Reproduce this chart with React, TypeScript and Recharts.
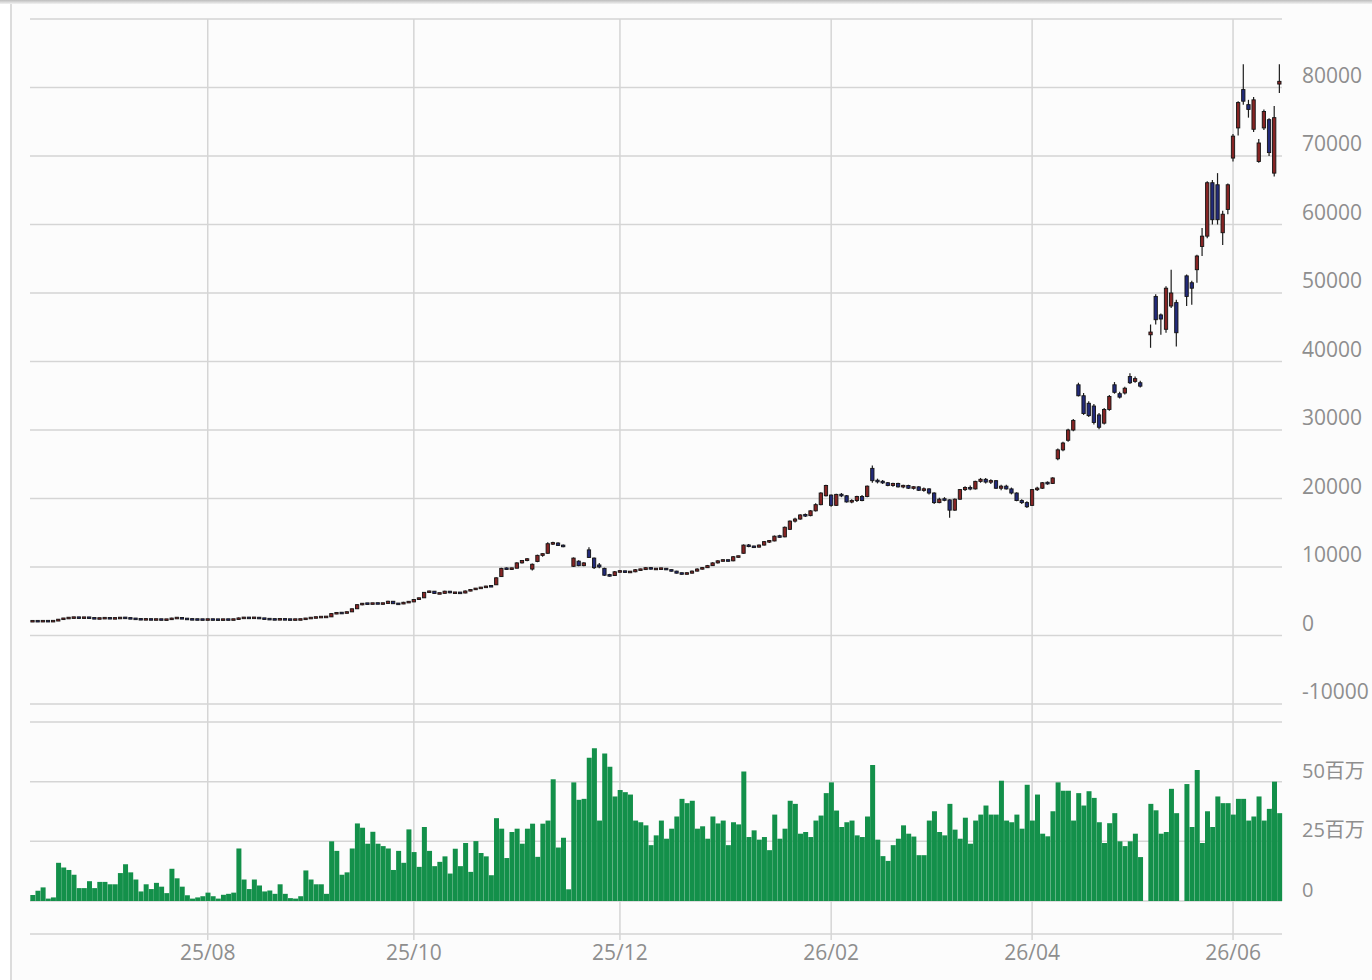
import { ComposedChart, Bar, XAxis, YAxis, CartesianGrid } from "recharts";

// daily candles [open, high, low, close]; null = no trade that day
const candles: (number[] | null)[] = [
  // 0-9
  [2080, 2110, 2060, 2090], [2090, 2110, 2070, 2085], [2085, 2105, 2065, 2095], [2095, 2110, 2075, 2090], [2090, 2120, 2070, 2100],
  [2110, 2420, 2100, 2380], [2380, 2560, 2300, 2500], [2500, 2640, 2480, 2600], [2600, 2660, 2560, 2620], [2620, 2650, 2570, 2590],
  // 10-19
  [2590, 2640, 2560, 2610], [2610, 2650, 2560, 2580], [2560, 2580, 2420, 2450], [2450, 2560, 2430, 2520], [2520, 2580, 2480, 2540],
  [2540, 2570, 2470, 2490], [2490, 2540, 2460, 2510], [2510, 2660, 2500, 2600], [2600, 2680, 2500, 2540], [2540, 2570, 2430, 2460],
  // 20-29
  [2460, 2490, 2380, 2400], [2400, 2420, 2320, 2340], [2340, 2400, 2310, 2370], [2370, 2390, 2300, 2320], [2320, 2380, 2300, 2350],
  [2350, 2370, 2290, 2310], [2310, 2340, 2290, 2320], [2320, 2580, 2310, 2540], [2540, 2620, 2500, 2560], [2560, 2580, 2440, 2460],
  // 30-39
  [2460, 2470, 2350, 2370], [2370, 2380, 2320, 2340], [2340, 2360, 2310, 2330], [2330, 2350, 2300, 2320], [2320, 2350, 2300, 2340],
  [2340, 2360, 2310, 2320], [2320, 2340, 2300, 2310], [2310, 2340, 2290, 2330], [2330, 2350, 2300, 2320], [2320, 2360, 2300, 2340],
  // 40-49
  [2340, 2620, 2330, 2560], [2560, 2620, 2520, 2580], [2580, 2610, 2540, 2560], [2560, 2640, 2530, 2600], [2600, 2620, 2480, 2500],
  [2500, 2520, 2400, 2420], [2420, 2440, 2340, 2360], [2360, 2380, 2320, 2340], [2340, 2420, 2330, 2380], [2380, 2400, 2320, 2330],
  // 50-59
  [2330, 2350, 2310, 2320], [2320, 2340, 2300, 2330], [2330, 2360, 2310, 2350], [2350, 2560, 2340, 2520], [2520, 2620, 2500, 2580],
  [2580, 2700, 2560, 2680], [2680, 2740, 2640, 2700], [2700, 2760, 2660, 2720], [2720, 3250, 2710, 3200], [3200, 3380, 3120, 3300],
  // 60-69
  [3300, 3360, 3200, 3260], [3260, 3520, 3240, 3450], [3450, 3950, 3420, 3900], [3900, 4560, 3880, 4500], [4500, 4760, 4420, 4680],
  [4680, 4720, 4560, 4620], [4620, 4750, 4580, 4700], [4700, 4760, 4600, 4650], [4650, 4720, 4580, 4680], [4680, 5060, 4660, 5000],
  // 70-79
  [5000, 5020, 4600, 4640], [4640, 4700, 4560, 4600], [4600, 4920, 4580, 4850], [4850, 5000, 4800, 4900], [4900, 5300, 4880, 5250],
  [5250, 5560, 5200, 5500], [5500, 6350, 5480, 6300], [6300, 6550, 6200, 6470], [6470, 6500, 6080, 6130], [6130, 6200, 6050, 6150],
  // 80-89
  [6150, 6520, 6120, 6470], [6470, 6500, 6180, 6230], [6230, 6300, 6150, 6250], [6250, 6280, 6160, 6200], [6200, 6560, 6180, 6500],
  [6500, 6760, 6460, 6700], [6700, 6950, 6650, 6900], [6900, 7050, 6850, 7000], [7000, 7260, 6960, 7200], [7200, 7300, 7100, 7180],
  // 90-99
  [7400, 8500, 7380, 8420], [8600, 9900, 8580, 9800], [9800, 9950, 9600, 9700], [9700, 9900, 9620, 9820], [9820, 10700, 9800, 10600],
  [10600, 11000, 10500, 10950], [10950, 11300, 10850, 11200], [9700, 10500, 9500, 10400], [10800, 11800, 10700, 11700], [11700, 12000, 11500, 11950],
  // 100-109
  [12000, 13600, 11950, 13400], [13400, 13700, 13200, 13500], [13500, 13600, 13050, 13150], [13150, 13300, 12900, 13000], null,
  [10100, 11400, 10000, 11300], [10850, 11000, 10100, 10200], [10200, 10700, 10100, 10600], [12500, 12900, 11300, 11400], [11300, 11400, 9700, 9900],
  // 110-119
  [10300, 10600, 9800, 10000], [9800, 9900, 8700, 8800], [8800, 9000, 8600, 8750], [8750, 9400, 8700, 9300], [9300, 9500, 9200, 9400],
  [9400, 9450, 9150, 9250], [9250, 9400, 9150, 9300], [9300, 9700, 9250, 9600], [9600, 9750, 9500, 9620], [9620, 9980, 9580, 9900],
  // 120-129
  [9900, 9950, 9650, 9700], [9700, 9800, 9600, 9720], [9720, 9900, 9650, 9800], [9800, 9850, 9550, 9600], [9600, 9650, 9350, 9400],
  [9400, 9450, 9050, 9100], [9100, 9150, 8900, 9000], [9000, 9200, 8950, 9100], [9100, 9500, 9050, 9400], [9400, 9800, 9350, 9700],
  // 130-139
  [9700, 10000, 9650, 9900], [9900, 10300, 9850, 10200], [10200, 10700, 10150, 10600], [10600, 11000, 10500, 10900], [10900, 11100, 10800, 11000],
  [11000, 11050, 10800, 10900], [10900, 11600, 10850, 11500], [11500, 11650, 11400, 11550], [12000, 13300, 11950, 13200], [13200, 13350, 12900, 13000],
  // 140-149
  [13000, 13100, 12800, 12900], [12900, 13300, 12850, 13200], [13200, 13800, 13150, 13700], [13700, 13900, 13500, 13800], [13800, 14600, 13750, 14500],
  [14500, 14700, 14300, 14400], [14400, 15900, 14350, 15800], [15500, 16800, 15400, 16700], [16700, 17200, 16500, 17000], [17000, 17700, 16900, 17600],
  // 150-159
  [17600, 17800, 17300, 17500], [17500, 18300, 17400, 18200], [18200, 19300, 18100, 19100], [19100, 20900, 19000, 20800], [20400, 22000, 20300, 21900],
  [20500, 20600, 18800, 19000], [19000, 20700, 18900, 20600], [20600, 20800, 20200, 20400], [20400, 20500, 19400, 19500], [19500, 19900, 19300, 19700],
  // 160-169
  [19700, 20400, 19500, 20300], [20300, 20500, 19600, 19700], [20300, 21900, 20200, 21800], [24400, 24800, 22300, 22600], [22600, 22900, 22200, 22500],
  [22500, 22700, 22100, 22300], [22300, 22400, 21800, 21900], [21900, 22300, 21700, 22200], [22200, 22300, 21600, 21700], [21700, 22000, 21500, 21900],
  // 170-179
  [21900, 22000, 21400, 21500], [21500, 21800, 21300, 21700], [21700, 21800, 21100, 21200], [21200, 21600, 21000, 21400], [21400, 21500, 20600, 20800],
  [20800, 20900, 19200, 19400], [19400, 20100, 19300, 19900], [19900, 20200, 19600, 19800], [19800, 19900, 17200, 18300], [18300, 20000, 18200, 19900],
  // 180-189
  [19900, 21400, 19800, 21300], [21300, 21800, 21100, 21600], [21600, 21900, 21200, 21400], [21400, 22600, 21300, 22500], [22500, 23000, 22300, 22800],
  [22800, 23000, 22200, 22400], [22400, 22800, 22100, 22600], [22600, 22700, 21400, 21500], [21500, 22000, 21200, 21800], [21800, 22000, 21300, 21400],
  // 190-199
  [21400, 21600, 20600, 20800], [20800, 20900, 19600, 19700], [19700, 19900, 19200, 19400], [19400, 19600, 18600, 18800], [19000, 21400, 18900, 21300],
  [21300, 21700, 21100, 21500], [21500, 22400, 21400, 22300], [22300, 22500, 22000, 22200], [22200, 23100, 22100, 23000], [25800, 27300, 25600, 27100],
  // 200-209
  [27100, 28300, 26900, 28100], [28500, 30200, 28300, 30000], [30000, 31600, 29800, 31400], [36600, 36900, 34900, 35000], [35000, 35400, 32200, 32400],
  [33900, 34200, 31900, 32100], [33500, 33800, 30800, 31100], [32200, 32500, 30100, 30400], [31000, 33200, 30800, 33000], [33000, 35100, 32800, 34900],
  // 210-219
  [36600, 37000, 35300, 35500], [35300, 35600, 34600, 34800], [35400, 36300, 35200, 36100], [37800, 38300, 36700, 36900], [37100, 37800, 36900, 37500],
  [36900, 37200, 36200, 36400], null, [43900, 45400, 42000, 44300], [49500, 49800, 45400, 46100], [46800, 47000, 43900, 46200],
  // 220-229
  [44700, 51000, 44200, 50700], [48100, 53400, 47800, 50000], [48600, 49000, 42200, 44200], null, [52500, 52700, 48100, 49500],
  [51500, 51800, 48300, 50700], [53400, 55600, 51500, 55400], [56800, 59500, 55400, 58300], [58300, 66300, 58000, 66100], [66100, 66500, 60000, 60700],
  // 230-239
  [65800, 67500, 60000, 60700], [58800, 62000, 57000, 61500], [62200, 66000, 61500, 65800], [69700, 73200, 69200, 72900], [74100, 78000, 73000, 77800],
  [79700, 83400, 77500, 78000], [77500, 78200, 75600, 76800], [73900, 78600, 73500, 78200], [69200, 72500, 69000, 71900], [74100, 76800, 73800, 76500],
  // 240-242
  [75300, 75500, 70000, 70500], [67500, 77300, 67000, 75600], [80500, 83400, 79200, 80900],
];

// daily volume, millions of shares
const volumes: number[] = [
  2.5, 4.3, 5.7, 1, 1.5, 16, 14, 13, 11, 5.4,
  5.4, 8.3, 5.4, 8, 8, 7, 7, 11.7, 15.4, 12,
  9, 4, 7, 5, 7.6, 6, 3.3, 13.5, 9.5, 6,
  2.4, 1, 1.5, 2, 3.5, 2, 1, 2.6, 3, 3.5,
  22, 9, 5, 9, 6.5, 4, 4.4, 3, 7, 3,
  1.2, 1, 2, 12.8, 9, 7, 7, 3, 25, 21,
  11, 12, 22, 32.5, 30.7, 24, 29, 24, 23, 22,
  13, 21, 16, 30, 20.5, 14.3, 31, 21, 14.6, 16.4,
  18.7, 11.5, 21.9, 14.6, 24.3, 12.2, 25.1, 20.1, 18.7, 10.8,
  34.7, 30.3, 18, 28.9, 30.3, 24, 30.3, 32.4, 18.5, 32.4,
  33.7, 51, 22.4, 26.5, 4.9, 49.7, 42.4, 42.8, 60, 64,
  33.7, 61.8, 56.3, 43.8, 46.5, 45.6, 44.6, 33.7, 33, 31.7,
  23.4, 27.5, 33.7, 26.1, 30.3, 35.4, 42.8, 41, 42, 30.3,
  31.3, 26.1, 35.4, 32.5, 33.7, 23.4, 33, 32.1, 54.3, 26.8,
  29.6, 25.7, 26.8, 21.3, 36.2, 26.1, 30.3, 42, 40.7, 28.2,
  28.9, 26.8, 33.7, 35.8, 45.2, 49.7, 37.9, 31, 33, 33.7,
  27.5, 26.8, 35.4, 57, 25.7, 18.8, 16.8, 23.4, 26.1, 31.7,
  28.2, 27, 19.2, 19.2, 33.7, 37.6, 28.9, 27.5, 40.7, 29.9,
  26.1, 34.9, 24, 33.7, 36.2, 40, 36.2, 36.2, 50.4, 33.7,
  33, 36.2, 30.3, 48.7, 33.7, 44.6, 28.2, 27.1, 37.6, 49.7,
  46.2, 46.2, 33.7, 45.2, 40, 46, 43.2, 33, 24.3, 32.6,
  36.8, 25, 23, 25, 28.2, 18.4, 0, 40.7, 38, 28.2,
  28.9, 47, 36.8, 0, 49, 31, 54.9, 24.3, 37.6, 31,
  43.8, 41, 41, 36.2, 42.8, 42.8, 33.7, 35.4, 43.8, 33.7,
  38.6, 50, 36.8,
];

// index of the first trading day of each labelled month
const monthTickIdx = [34, 74, 114, 155, 194, 233];
const monthLabels = ["25/08", "25/10", "25/12", "26/02", "26/04", "26/06"];
const priceTicks = [-10000, 0, 10000, 20000, 30000, 40000, 50000, 60000, 70000, 80000, 90000];
const volumeTicks = [0, 25, 50, 75];

const data = candles.map((c, i) => ({
  i,
  range: c ? [c[2], c[1]] : null,
  ohlc: c,
  vol: volumes[i],
}));

const GRID = "#d5d5d5";
const LABEL = "#8e8e8e";
const FONT = '"Open Sans", "Noto Sans CJK JP", sans-serif';
const UP = "#862424";
const DOWN = "#222a7a";

function Candle(props: any) {
  const { x, y, width, height, payload } = props;
  const c = payload && payload.ohlc;
  if (!c) return <g />;
  const [o, h, l, cl] = c;
  const top = Math.min(y, y + height);
  const span = Math.abs(height);
  const toY = (v: number) => (h === l ? top : top + ((h - v) / (h - l)) * span);
  const cx = x + width / 2;
  const bTop = toY(Math.max(o, cl));
  const bBot = toY(Math.min(o, cl));
  const bh = Math.max(1.6, bBot - bTop);
  const bw = 3.3;
  const up = cl >= o;
  return (
    <g>
      <line x1={cx} x2={cx} y1={top} y2={top + span} stroke="#1e1e1e" strokeWidth={1.2} />
      <rect
        x={cx - bw / 2}
        y={bTop - (bh - (bBot - bTop)) / 2}
        width={bw}
        height={bh}
        fill={up ? UP : DOWN}
        stroke="#151515"
        strokeWidth={0.9}
      />
    </g>
  );
}

function PriceTick(props: any) {
  const { y, payload } = props;
  if (payload.value === 90000) return <g />;
  return (
    <text x={1302} y={y - 5} fill={LABEL} fontSize={21} fontFamily={FONT}>
      {payload.value}
    </text>
  );
}

function VolumeTick(props: any) {
  const { y, payload } = props;
  if (payload.value === 75) return <g />;
  return (
    <text x={1302} y={y - 4} fill={LABEL} fontSize={20} fontFamily={FONT}>
      {payload.value === 0 ? "0" : `${payload.value}百万`}
    </text>
  );
}

function MonthTick(props: any) {
  const { x, y, payload } = props;
  const k = monthTickIdx.indexOf(payload.value);
  return (
    <text x={x} y={y + 18} textAnchor="middle" fill={LABEL} fontSize={21} fontFamily={FONT}>
      {monthLabels[k]}
    </text>
  );
}

export default function App() {
  return (
    <div style={{ position: "absolute", left: 0, top: 0, width: 1372, height: 980, background: "#fff", overflow: "hidden" }}>
      <div style={{ position: "absolute", left: 11, top: 0, right: 0, bottom: 0, background: "#fcfcfc" }} />
      <div style={{ position: "absolute", left: 10, top: 0, width: 1.5, height: 980, background: "#dcdcdc" }} />
      <div style={{ position: "absolute", left: 0, top: 0, width: 1372, height: 4, background: "linear-gradient(#bdbdbd, #f2f2f2)" }} />

      <div style={{ position: "absolute", left: 0, top: 0 }}>
        <ComposedChart width={1372} height={722} data={data} margin={{ top: 19, right: 0, bottom: 0, left: 30 }}>
          <CartesianGrid stroke={GRID} strokeWidth={1.5} syncWithTicks />
          <XAxis
            dataKey="i"
            type="category"
            ticks={monthTickIdx}
            interval={0}
            height={18}
            tickSize={18}
            axisLine={false}
            tickLine={{ stroke: GRID, strokeWidth: 1.5 }}
            tick={() => <g />}
          />
          <YAxis
            orientation="right"
            type="number"
            domain={[-10000, 90000]}
            ticks={priceTicks}
            interval={0}
            width={90}
            axisLine={false}
            tickLine={false}
            tick={PriceTick}
          />
          <Bar dataKey="range" shape={Candle} isAnimationActive={false} />
        </ComposedChart>
      </div>

      <div style={{ position: "absolute", left: 0, top: 714 }}>
        <ComposedChart
          width={1372}
          height={266}
          data={data}
          margin={{ top: 8, right: 0, bottom: 0, left: 30 }}
          barCategoryGap="6%"
        >
          <CartesianGrid stroke={GRID} strokeWidth={1.5} syncWithTicks />
          <XAxis
            dataKey="i"
            type="category"
            ticks={monthTickIdx}
            interval={0}
            height={46}
            tickSize={6}
            axisLine={{ stroke: GRID, strokeWidth: 1.5 }}
            tickLine={{ stroke: GRID, strokeWidth: 1.5 }}
            tick={MonthTick}
          />
          <YAxis
            orientation="right"
            type="number"
            domain={[-13.83, 75]}
            ticks={volumeTicks}
            interval={0}
            width={90}
            axisLine={false}
            tickLine={false}
            tick={VolumeTick}
          />
          <Bar dataKey="vol" fill="#13904a" isAnimationActive={false} />
        </ComposedChart>
      </div>
    </div>
  );
}
